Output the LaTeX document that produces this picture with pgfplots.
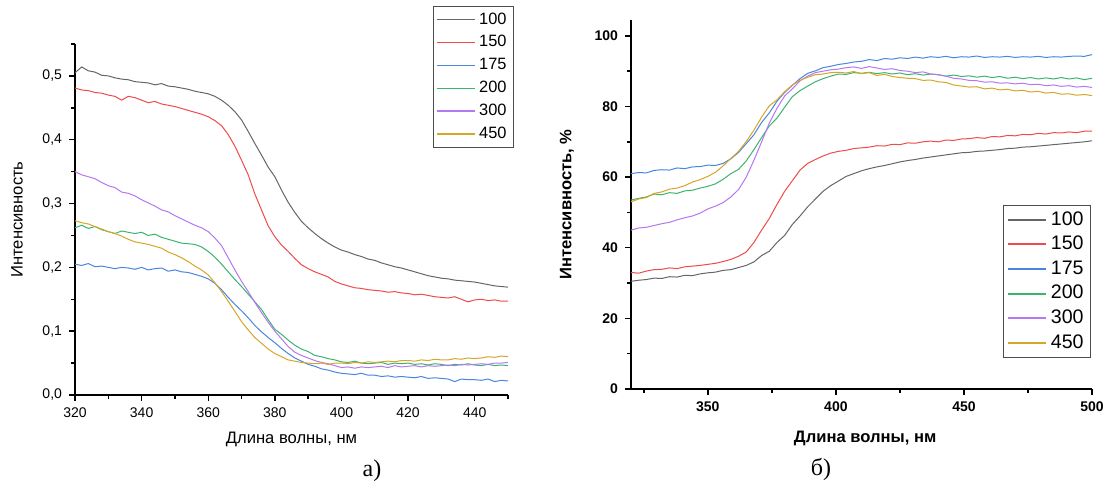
\documentclass[border=0pt]{standalone}
\usepackage{fontspec}
\setmainfont{Liberation Sans}
\newfontfamily\serifa{Liberation Serif}
\usepackage{pgfplots}
\usepackage{pgfplotstable}
\pgfplotsset{compat=1.18}

\definecolor{c100}{HTML}{666666}
\definecolor{c150}{HTML}{EE4B4B}
\definecolor{c175}{HTML}{4A86E0}
\definecolor{c200}{HTML}{3CB46E}
\definecolor{c300}{HTML}{B478F0}
\definecolor{c450}{HTML}{D7A528}

% a) absorbance, 320-450 nm
\pgfplotstableread{
x   c100 c150 c175 c200 c300 c450
320 .505 .481 .205 .262 .350 .273
322 .514 .478 .203 .266 .345 .270
324 .508 .477 .206 .261 .342 .268
326 .506 .474 .201 .264 .339 .264
328 .501 .473 .202 .259 .333 .260
330 .500 .470 .200 .256 .328 .256
332 .497 .468 .198 .253 .325 .253
334 .495 .462 .200 .257 .318 .249
336 .494 .468 .199 .255 .316 .244
338 .491 .466 .197 .253 .312 .240
340 .490 .462 .200 .255 .306 .238
342 .489 .458 .196 .250 .301 .236
344 .486 .460 .198 .252 .296 .233
346 .488 .456 .199 .247 .290 .230
348 .484 .454 .194 .244 .287 .224
350 .483 .452 .196 .241 .281 .220
352 .481 .449 .193 .238 .276 .215
354 .479 .446 .192 .237 .271 .209
356 .476 .443 .189 .236 .266 .202
358 .474 .440 .186 .232 .262 .196
360 .472 .436 .182 .225 .256 .188
362 .468 .430 .175 .216 .246 .176
364 .462 .422 .165 .205 .234 .162
366 .454 .408 .153 .193 .215 .147
368 .444 .390 .142 .181 .196 .131
370 .431 .368 .132 .170 .178 .115
372 .413 .345 .121 .158 .162 .102
374 .394 .315 .109 .146 .145 .090
376 .376 .290 .099 .134 .129 .081
378 .357 .265 .090 .118 .114 .072
380 .342 .248 .082 .103 .100 .065
382 .321 .235 .073 .095 .088 .060
384 .302 .225 .065 .086 .076 .055
386 .286 .214 .058 .078 .067 .053
388 .272 .204 .053 .072 .062 .051
390 .262 .198 .048 .068 .058 .050
392 .253 .193 .045 .062 .054 .049
394 .245 .189 .041 .060 .051 .050
396 .238 .185 .039 .057 .049 .048
398 .232 .178 .036 .055 .046 .050
400 .227 .174 .034 .052 .043 .050
402 .224 .171 .033 .051 .044 .049
404 .220 .168 .032 .053 .042 .051
406 .217 .167 .034 .050 .044 .050
408 .213 .165 .031 .049 .043 .052
410 .211 .164 .031 .050 .044 .051
412 .207 .163 .029 .051 .045 .052
414 .204 .161 .030 .048 .043 .053
416 .201 .162 .028 .050 .046 .052
418 .199 .160 .029 .049 .044 .054
420 .196 .159 .028 .050 .045 .054
422 .193 .157 .027 .048 .046 .053
424 .190 .158 .029 .049 .044 .055
426 .187 .156 .026 .047 .046 .054
428 .185 .154 .027 .049 .045 .056
430 .183 .153 .026 .048 .046 .055
432 .182 .152 .025 .046 .047 .055
434 .180 .154 .021 .048 .046 .057
436 .179 .150 .025 .047 .048 .056
438 .178 .146 .024 .049 .047 .058
440 .177 .149 .024 .047 .048 .057
442 .175 .150 .023 .046 .049 .058
444 .173 .148 .025 .048 .048 .060
446 .171 .149 .021 .046 .050 .059
448 .170 .147 .023 .047 .050 .061
450 .169 .147 .022 .046 .051 .060
}\tabA

% b) transmittance, 320-500 nm
\pgfplotstableread{
x   c100 c150 c175 c200 c300 c450
320 30.5 33.0 61.0 53.5 45.0 53.0
323 30.8 32.8 61.3 54.0 45.6 53.8
326 31.0 33.4 61.2 54.4 45.8 54.2
329 31.4 33.8 61.9 55.2 46.3 55.4
332 31.3 33.9 62.1 55.0 46.8 55.8
335 31.8 34.3 62.0 55.6 47.2 56.6
338 31.7 34.1 62.6 55.4 47.9 56.9
341 32.2 34.6 62.4 56.1 48.5 57.6
344 32.1 34.8 62.9 56.3 49.0 58.6
347 32.6 35.0 63.0 56.9 49.8 59.3
350 32.9 35.3 63.4 57.4 51.0 60.2
353 33.1 35.6 63.3 58.1 51.8 61.4
356 33.6 36.1 63.9 59.4 52.8 63.2
359 33.8 36.7 65.2 61.0 54.4 65.3
362 34.4 37.6 67.0 62.2 56.5 67.3
365 35.0 38.8 69.5 64.6 60.0 70.1
368 36.0 41.5 72.0 67.8 64.8 73.3
371 37.8 45.0 75.5 71.2 70.0 77.0
374 39.0 48.3 78.2 74.5 75.3 80.2
377 41.5 52.3 81.5 76.7 79.5 81.9
380 43.5 56.0 84.0 79.8 83.0 84.2
383 46.6 59.0 86.0 82.8 85.0 86.1
386 49.0 62.0 87.9 84.5 87.3 87.4
389 51.6 63.9 89.4 85.8 88.6 88.3
392 53.8 65.0 90.1 87.0 89.6 89.0
395 56.0 66.0 91.0 87.9 90.0 89.2
398 57.6 66.8 91.4 88.6 90.4 89.6
401 58.9 67.3 91.9 89.2 90.6 89.7
404 60.2 67.6 92.2 89.1 91.0 89.5
407 61.0 68.1 92.6 89.6 91.2 89.9
410 61.8 68.3 92.8 89.4 90.8 89.3
413 62.4 68.5 93.3 89.7 91.3 89.6
416 62.9 68.9 93.0 89.3 90.9 88.8
419 63.3 68.8 93.6 89.6 90.5 89.1
422 63.8 69.3 93.4 89.2 90.7 88.5
425 64.3 69.2 93.8 89.5 90.2 88.2
428 64.7 69.7 93.6 89.0 90.0 88.0
431 65.0 69.6 94.0 89.3 89.6 87.9
434 65.4 70.0 93.7 88.9 89.8 87.4
437 65.7 70.2 94.1 89.2 89.2 87.5
440 66.0 70.0 93.9 89.0 89.0 87.0
443 66.3 70.5 94.2 88.6 88.6 86.8
446 66.6 70.4 93.8 88.9 88.0 86.1
449 66.9 70.8 94.1 88.5 87.8 85.8
452 67.0 70.9 94.0 88.7 87.4 85.5
455 67.3 71.2 94.3 88.3 87.3 85.6
458 67.4 71.0 93.9 88.6 86.9 85.0
461 67.6 71.5 94.1 88.2 87.0 85.2
464 67.8 71.4 94.0 88.5 86.6 84.7
467 68.1 71.8 94.2 88.0 86.7 84.9
470 68.2 71.7 93.9 88.3 86.4 84.4
473 68.5 72.1 94.1 87.9 86.6 84.6
476 68.6 72.0 94.0 88.2 86.2 84.1
479 68.8 72.4 94.2 87.8 86.3 84.3
482 69.0 72.2 93.9 88.1 85.9 83.8
485 69.2 72.6 94.1 87.8 86.1 84.0
488 69.4 72.5 94.0 88.2 85.7 83.5
491 69.6 72.8 94.2 87.8 85.9 83.6
494 69.8 72.6 94.3 88.1 85.5 83.2
497 70.0 73.0 94.2 87.6 85.7 83.4
500 70.3 73.0 94.7 88.0 85.4 83.1
}\tabB

\pgfplotsset{
  spec/.style={
    scale only axis,
    axis lines=left,
    axis line style={-, line width=0.9pt},
    tick align=outside,
    major tick length=3pt,
    minor tick length=1.8pt,
    tick style={black, line width=0.7pt},
    /pgf/number format/assume math mode=true,
    legend cell align=left,
    legend style={draw=black!70, line width=0.5pt, fill=white},
    every axis plot/.append style={line width=0.5pt},
  },
}

\begin{document}
\begin{tikzpicture}
\path (0,0) rectangle (555.5pt,244pt);

\begin{axis}[spec,
  at={(37.5pt,46.5pt)}, anchor=south west,
  width=216.5pt, height=175.5pt,
  xmin=320, xmax=450, ymin=0, ymax=0.55,
  xtick={320,340,...,440}, minor xtick={330,350,...,450},
  ytick={0,0.1,...,0.5}, minor ytick={0.05,0.15,...,0.55},
  ticklabel style={font=\fontsize{7}{8}\selectfont},
  yticklabel style={/pgf/number format/.cd, fixed, fixed zerofill, precision=1, use comma},
  xticklabel style={/pgf/number format/.cd, 1000 sep={}},
  xlabel={Длина волны, нм}, ylabel={Интенсивность},
  label style={font=\fontsize{8.3}{9}\selectfont},
  xlabel style={at={(rel axis cs:0.5,-0.128)}, anchor=center},
  ylabel style={at={(rel axis cs:-0.134,0.5)}, anchor=center},
  legend style={at={(1.014,1.108)}, anchor=north east,
    font=\fontsize{8.2}{9}\selectfont, row sep=0.2pt,
    inner xsep=1.5pt, inner ysep=1pt},
  legend image code/.code={\draw[#1, line width=0.6pt] (0pt,0pt) -- (19pt,0pt);},
]
\addplot[c100] table[x=x, y=c100] {\tabA};
\addplot[c150] table[x=x, y=c150] {\tabA};
\addplot[c175] table[x=x, y=c175] {\tabA};
\addplot[c200] table[x=x, y=c200] {\tabA};
\addplot[c300] table[x=x, y=c300] {\tabA};
\addplot[c450] table[x=x, y=c450] {\tabA};
\legend{100,150,175,200,300,450}
\end{axis}

\begin{axis}[spec,
  at={(315.5pt,49.5pt)}, anchor=south west,
  width=230.5pt, height=184.5pt,
  xmin=320, xmax=500, ymin=0, ymax=104.5,
  xtick={350,400,450,500}, minor xtick={325,375,425,475},
  ytick={0,20,...,100}, minor ytick={10,30,...,90},
  ticklabel style={font=\bfseries\fontsize{7}{8}\selectfont},
  xlabel={Длина волны, нм}, ylabel={Интенсивность, \%},
  label style={font=\bfseries\fontsize{8.3}{9}\selectfont},
  xlabel style={at={(rel axis cs:0.508,-0.133)}, anchor=center},
  ylabel style={at={(rel axis cs:-0.139,0.5)}, anchor=center},
  legend style={at={(0.998,0.499)}, anchor=north east,
    font=\fontsize{9.8}{10.5}\selectfont, row sep=0pt,
    inner xsep=1.5pt, inner ysep=1pt},
  legend image code/.code={\draw[#1, line width=1pt] (0pt,0pt) -- (19pt,0pt);},
]
\addplot[c100] table[x=x, y=c100] {\tabB};
\addplot[c150] table[x=x, y=c150] {\tabB};
\addplot[c175] table[x=x, y=c175] {\tabB};
\addplot[c200] table[x=x, y=c200] {\tabB};
\addplot[c300] table[x=x, y=c300] {\tabB};
\addplot[c450] table[x=x, y=c450] {\tabB};
\legend{100,150,175,200,300,450}
\end{axis}

\node[font=\serifa\fontsize{12}{13}\selectfont] at (186pt,8.5pt) {а)};
\node[font=\serifa\fontsize{12}{13}\selectfont] at (410.5pt,9.5pt) {б)};
\end{tikzpicture}
\end{document}
